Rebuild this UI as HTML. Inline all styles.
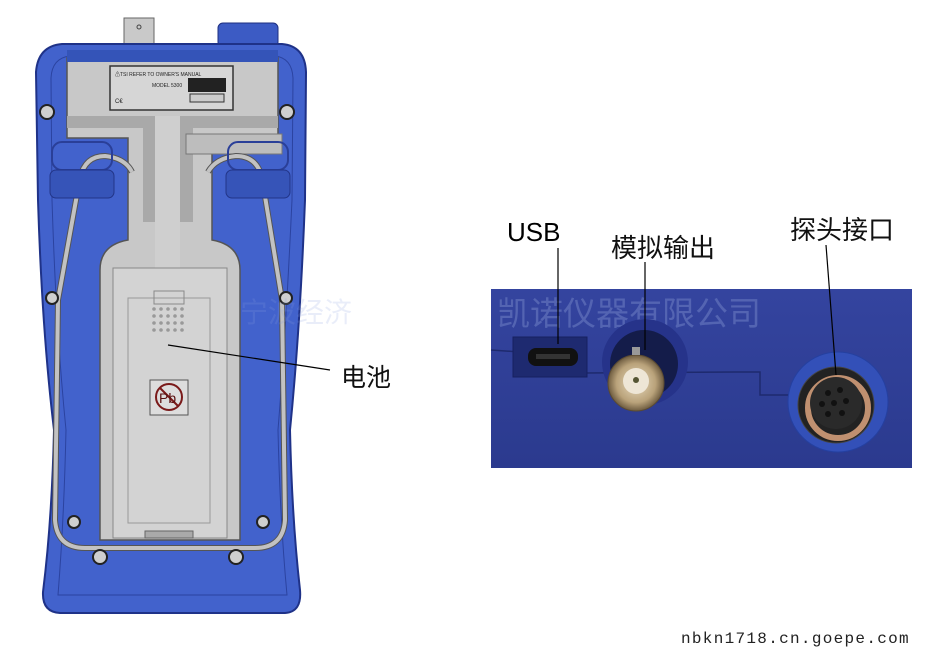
<!DOCTYPE html>
<html><head><meta charset="utf-8"><style>
html,body{margin:0;padding:0;background:#fff;width:944px;height:656px;overflow:hidden}
svg{display:block}
text{font-family:"Liberation Sans","Noto Sans CJK SC",sans-serif}
</style></head><body>
<svg width="944" height="656" viewBox="0 0 944 656" xmlns="http://www.w3.org/2000/svg">
<defs>
<radialGradient id="bnc" cx="50%" cy="50%" r="50%"><stop offset="0" stop-color="#e9dcc0"/><stop offset="0.7" stop-color="#b9a27a"/><stop offset="1" stop-color="#6e5c40"/></radialGradient>
<linearGradient id="ph" x1="0" y1="0" x2="0" y2="1"><stop offset="0" stop-color="#34449f"/><stop offset="1" stop-color="#2b3a8e"/></linearGradient>
</defs>
<rect x="124" y="18" width="30" height="30" fill="#c9c9c9" stroke="#666"/>
<circle cx="139" cy="27" r="2" fill="none" stroke="#444"/>
<rect x="218" y="23" width="60" height="24" rx="5" fill="#3c5bc4" stroke="#1e2f80"/>
<path d="M62,44 L282,44 Q305,46 306,72 L305,200 Q300,330 290,430 Q292,520 300,590 Q302,612 285,613 L60,613 Q42,612 43,592 Q52,520 54,430 Q42,330 38,200 L36,72 Q38,46 62,44 Z" fill="#4262cc" stroke="#1f3288" stroke-width="2"/>
<path d="M70,56 L275,56 Q292,58 293,78 L292,200 Q286,330 278,430 Q280,520 287,595 L58,595 Q64,520 66,430 Q56,330 52,200 L51,78 Q52,58 70,56 Z" fill="none" stroke="#2b43a0" stroke-width="1"/>
<path d="M67,58 L278,58 L278,138 L212,138 L212,240 Q240,245 240,270 L240,540 L100,540 L100,270 Q100,245 128,240 L128,138 L67,138 Z" fill="#c8c8c8" stroke="#555" stroke-width="1.5"/>
<rect x="67" y="50" width="211" height="12" fill="#3454b8"/>
<path d="M67,116 L155,116 L155,222 L143,222 L143,128 L67,128Z" fill="#a9a9a9"/>
<path d="M180,116 L278,116 L278,128 L193,128 L193,222 L180,222Z" fill="#a9a9a9"/>
<rect x="155" y="116" width="25" height="160" fill="#cfcfcf"/>
<rect x="186" y="134" width="96" height="20" fill="#bdbdbd" stroke="#777"/>
<rect x="110" y="66" width="123" height="44" fill="#d6d6d6" stroke="#333" stroke-width="1.5"/>
<text x="115" y="76" font-size="5" fill="#222">⚠TSI  REFER TO OWNER'S MANUAL</text>
<text x="152" y="87" font-size="5" fill="#222">MODEL 5300</text>
<rect x="188" y="78" width="38" height="14" fill="#222"/>
<rect x="190" y="94" width="34" height="8" fill="#ccc" stroke="#333"/>
<text x="115" y="103" font-size="6" fill="#222">C€</text>
<rect x="113" y="268" width="114" height="270" fill="#d3d3d3" stroke="#888"/>
<rect x="128" y="298" width="82" height="225" fill="none" stroke="#999"/>
<rect x="154" y="291" width="30" height="13" fill="none" stroke="#888"/>
<g fill="#999">
<circle cx="154" cy="309" r="1.8"/><circle cx="161" cy="309" r="1.8"/><circle cx="168" cy="309" r="1.8"/><circle cx="175" cy="309" r="1.8"/><circle cx="182" cy="309" r="1.8"/>
<circle cx="154" cy="316" r="1.8"/><circle cx="161" cy="316" r="1.8"/><circle cx="168" cy="316" r="1.8"/><circle cx="175" cy="316" r="1.8"/><circle cx="182" cy="316" r="1.8"/>
<circle cx="154" cy="323" r="1.8"/><circle cx="161" cy="323" r="1.8"/><circle cx="168" cy="323" r="1.8"/><circle cx="175" cy="323" r="1.8"/><circle cx="182" cy="323" r="1.8"/>
<circle cx="154" cy="330" r="1.8"/><circle cx="161" cy="330" r="1.8"/><circle cx="168" cy="330" r="1.8"/><circle cx="175" cy="330" r="1.8"/><circle cx="182" cy="330" r="1.8"/>
</g>
<rect x="150" y="380" width="38" height="35" fill="#ddd" stroke="#555"/>
<circle cx="169" cy="397" r="13" fill="none" stroke="#7a1a1a" stroke-width="2"/>
<line x1="160" y1="388" x2="178" y2="406" stroke="#7a1a1a" stroke-width="2"/>
<text x="159" y="403" font-size="14" fill="#5a1010">Pb</text>
<rect x="145" y="531" width="48" height="7" fill="#aaa" stroke="#666"/>
<path d="M132,172 Q125,158 105,156 Q85,156 80,178 L58,300 L55,520 Q57,548 85,548 L255,548 Q283,548 285,520 L282,300 L262,178 Q257,156 236,156 Q216,158 208,172" fill="none" stroke="#555" stroke-width="6"/>
<path d="M132,172 Q125,158 105,156 Q85,156 80,178 L58,300 L55,520 Q57,548 85,548 L255,548 Q283,548 285,520 L282,300 L262,178 Q257,156 236,156 Q216,158 208,172" fill="none" stroke="#c2c2c2" stroke-width="4"/>
<rect x="52" y="142" width="60" height="28" rx="10" fill="none" stroke="#2a3f98" stroke-width="2"/>
<rect x="50" y="170" width="64" height="28" rx="6" fill="#3654b8" stroke="#223588"/>
<rect x="228" y="142" width="60" height="28" rx="10" fill="none" stroke="#2a3f98" stroke-width="2"/>
<rect x="226" y="170" width="64" height="28" rx="6" fill="#3654b8" stroke="#223588"/>
<g fill="#cfcfcf" stroke="#222" stroke-width="2">
<circle cx="47" cy="112" r="7"/><circle cx="287" cy="112" r="7"/>
<circle cx="52" cy="298" r="6"/><circle cx="286" cy="298" r="6"/>
<circle cx="74" cy="522" r="6"/><circle cx="263" cy="522" r="6"/>
<circle cx="100" cy="557" r="7"/><circle cx="236" cy="557" r="7"/>
</g>
<line x1="168" y1="345" x2="330" y2="370" stroke="#000" stroke-width="1.2"/>
<text x="341" y="386" font-size="25" fill="#111">电池</text>
<text x="240" y="322" font-size="28" fill="#8aa0e0" opacity="0.18">宁波经济</text>
<rect x="491" y="289" width="421" height="179" fill="url(#ph)"/>
<path d="M491,350 L520,352 M585,373 L735,372 L760,372 L760,395 L810,395" fill="none" stroke="#1e2a6e" stroke-width="1.5"/>
<text x="497" y="325" font-size="33" fill="#6f80c4" opacity="0.55">凯诺仪器有限公司</text>
<rect x="513" y="337" width="74" height="40" fill="#1e2a70" stroke="#162060"/>
<rect x="528" y="348" width="50" height="18" rx="8" fill="#111"/>
<rect x="536" y="354" width="34" height="5" fill="#333"/>
<circle cx="645" cy="362" r="43" fill="#26338a"/>
<circle cx="644" cy="364" r="34" fill="#141c4a"/>
<circle cx="636" cy="383" r="28" fill="url(#bnc)" stroke="#5a4a32"/>
<circle cx="636" cy="381" r="13" fill="#eee6d6"/>
<circle cx="636" cy="380" r="3" fill="#553"/>
<rect x="632" y="347" width="8" height="8" fill="#999"/>
<circle cx="838" cy="402" r="50" fill="#3350b8" stroke="#2540a0"/>
<circle cx="836" cy="405" r="38" fill="#222" stroke="#444"/>
<circle cx="838" cy="408" r="30" fill="none" stroke="#c09070" stroke-width="6"/>
<circle cx="836" cy="403" r="26" fill="#2a2a2a"/>
<g fill="#111"><circle cx="828" cy="393" r="3"/><circle cx="840" cy="390" r="3"/><circle cx="822" cy="404" r="3"/><circle cx="834" cy="403" r="3"/><circle cx="846" cy="401" r="3"/><circle cx="828" cy="414" r="3"/><circle cx="842" cy="413" r="3"/></g>
<text x="507" y="241" font-size="26" fill="#000">USB</text>
<line x1="558" y1="248" x2="558" y2="344" stroke="#000" stroke-width="1.2"/>
<text x="611" y="257" font-size="26" fill="#111">模拟输出</text>
<line x1="645" y1="262" x2="645" y2="350" stroke="#000" stroke-width="1.2"/>
<text x="790" y="239" font-size="26" fill="#111">探头接口</text>
<line x1="826" y1="245" x2="836" y2="375" stroke="#000" stroke-width="1.2"/>
<text x="681" y="643" font-size="16" fill="#222" style="font-family:'Liberation Mono',monospace;letter-spacing:1.3px">nbkn1718.cn.goepe.com</text>
</svg>
</body></html>
